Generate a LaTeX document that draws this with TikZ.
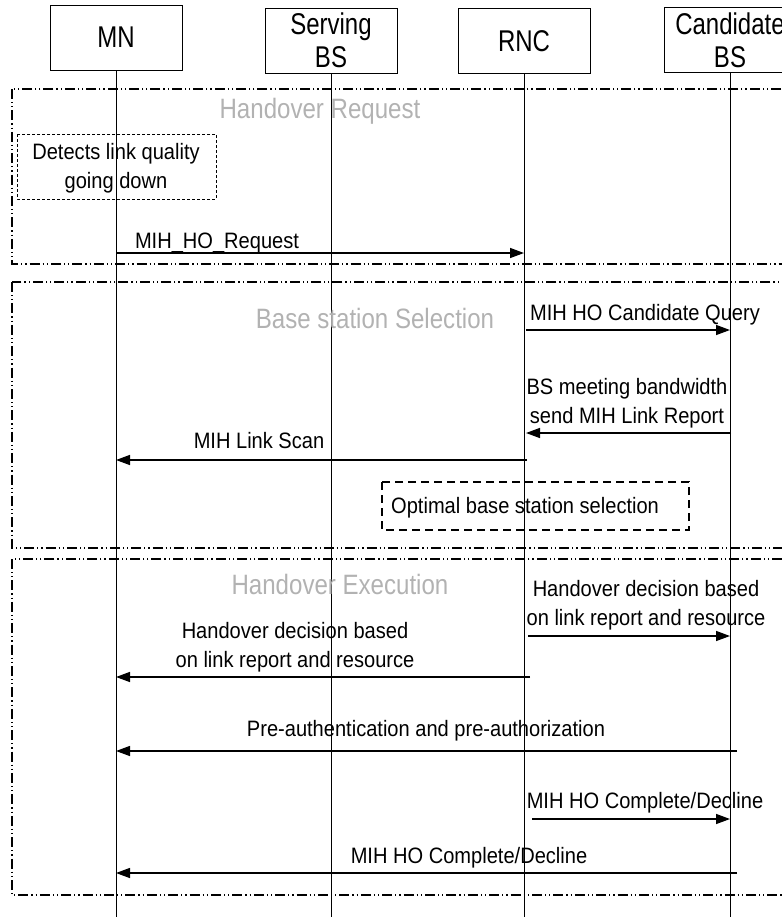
\documentclass[tikz,border=0pt]{standalone}
\usepackage{fontspec}
\setmainfont{Liberation Sans}
\newfontfamily\msgfont[FakeStretch=0.9]{Liberation Sans}
\newfontfamily\hdfont[FakeStretch=0.8]{Liberation Sans}
\newfontfamily\phfont[FakeStretch=0.86]{Liberation Sans}
\usetikzlibrary{arrows.meta}
\begin{document}
\begin{tikzpicture}[x=1pt,y=-1pt,
  actor/.style={draw, line width=0.8pt, minimum width=132pt, minimum height=65pt, inner sep=0pt,
    font=\hdfont\fontsize{30}{33}\selectfont, align=center},
  life/.style={line width=0.6pt},
  phase/.style={line width=1.2pt, dash pattern=on 10pt off 3pt on 1.2pt off 3pt on 1.2pt off 3pt},
  phasetitle/.style={font=\phfont\fontsize{28}{30}\selectfont, text=black!30, inner sep=0pt, anchor=base},
  msg/.style={line width=1.4pt, -{Triangle[length=14pt,width=10pt]}},
  lbl/.style={font=\msgfont\fontsize{22.3}{29}\selectfont, align=center, inner sep=0pt, anchor=base},
  notebox/.style={line width=0.8pt, dash pattern=on 3pt off 2pt},
  selbox/.style={line width=1.2pt, dash pattern=on 8pt off 5pt}
]
\useasboundingbox (0,0) rectangle (782,919);
\clip (0,0) rectangle (782,919);

% actors
\node[actor] (mn) at (116,37.5) {MN};
\node[actor] (sbs) at (331,40.5) {Serving\\BS};
\node[actor] (rnc) at (524,41) {RNC};
\node[actor] (cbs) at (730,40) {Candidate\\BS};

% lifeline ends
\coordinate (mnE) at (116,917);
\coordinate (sbsE) at (331,917);
\coordinate (rncE) at (524,917);
\coordinate (cbsE) at (730,917);
\draw[life] (mn.south) -- (mnE);
\draw[life] (sbs.south) -- (sbsE);
\draw[life] (rnc.south) -- (rncE);
\draw[life] (cbs.south) -- (cbsE);

% phases
\draw[phase] (12,89) rectangle (810,264);
\draw[phase] (12,282) rectangle (810,548);
\draw[phase] (12,559) rectangle (810,895);
\node[phasetitle] (t1) at (320,118) {Handover Request};
\node[phasetitle] (t2) at (375,328) {Base station Selection};
\node[phasetitle] (t3) at (340,594) {Handover Execution};

% phase 1
\draw[notebox] (17,134) rectangle (216,199);
\node[lbl] (detect) at (116,188) {Detects link quality\\going down};
\coordinate (m1s) at (116,253);
\coordinate (m1e) at (524,253);
\draw[msg] (m1s) -- (m1e);
\node[lbl] (l1) at (217,248) {MIH\_HO\_Request};

% phase 2
\coordinate (m2s) at (526,330);
\coordinate (m2e) at (730,330);
\draw[msg] (m2s) -- (m2e);
\node[lbl] (l2) at (645,320) {MIH HO Candidate Query};
\coordinate (m3s) at (731,433);
\coordinate (m3e) at (526,433);
\draw[msg] (m3s) -- (m3e);
\node[lbl] (l3) at (627,423) {BS meeting bandwidth\\send MIH Link Report};
\coordinate (m4s) at (527,460);
\coordinate (m4e) at (116,460);
\draw[msg] (m4s) -- (m4e);
\node[lbl] (l4) at (259,448) {MIH Link Scan};
\draw[selbox] (382,482) rectangle (689,530);
\node[lbl, anchor=base west] (opt) at (391,513) {Optimal base station selection};

% phase 3
\coordinate (m5s) at (528,636);
\coordinate (m5e) at (730,636);
\draw[msg] (m5s) -- (m5e);
\node[lbl] (l5) at (646,625) {Handover decision based\\on link report and resource};
\coordinate (m6s) at (530,677);
\coordinate (m6e) at (116,677);
\draw[msg] (m6s) -- (m6e);
\node[lbl] (l6) at (295,667) {Handover decision based\\on link report and resource};
\coordinate (m7s) at (737,751);
\coordinate (m7e) at (116,751);
\draw[msg] (m7s) -- (m7e);
\node[lbl] (l7) at (426,736) {Pre-authentication and pre-authorization};
\coordinate (m8s) at (532,819);
\coordinate (m8e) at (730,819);
\draw[msg] (m8s) -- (m8e);
\node[lbl] (l8) at (645,808) {MIH HO Complete/Decline};
\coordinate (m9s) at (737,873);
\coordinate (m9e) at (116,873);
\draw[msg] (m9s) -- (m9e);
\node[lbl] (l9) at (469,863) {MIH HO Complete/Decline};
\end{tikzpicture}
\end{document}
